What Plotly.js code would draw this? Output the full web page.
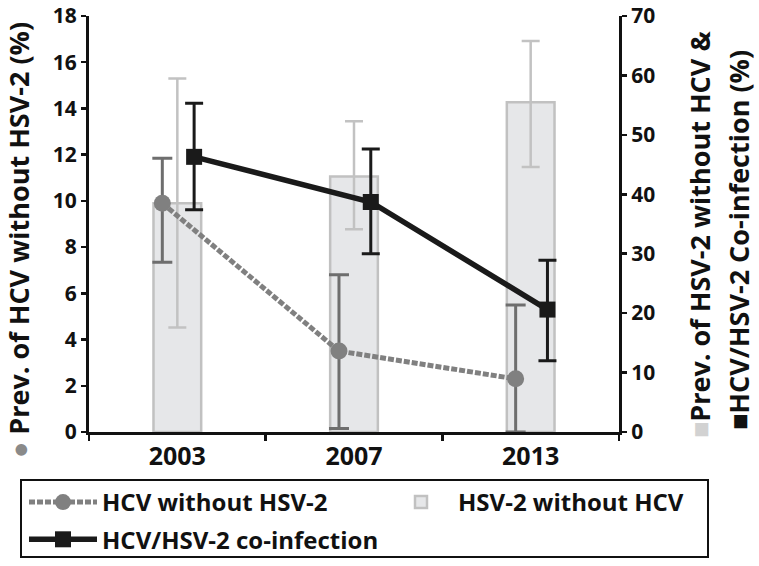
<!DOCTYPE html>
<html>
<head>
<meta charset="utf-8">
<script src="https://cdn.plot.ly/plotly-3.0.1.min.js"></script>
<style>body{margin:0;background:#fff}</style>
</head>
<body>
<div id="chart" style="width:759px;height:566px"></div>
<script>
// ---- data ----
var years = ['2003', '2007', '2013'];

// HCV without HSV-2 (left axis, %)
var hcv   = [9.9, 3.5, 2.3];
var hcvHi = [11.85, 6.8, 5.5];
var hcvLo = [7.35, 0.15, 0.0];

// HSV-2 without HCV (right axis, %)
var hsv   = [38.5, 43.0, 55.5];
var hsvHi = [59.5, 52.3, 65.8];
var hsvLo = [17.6, 34.1, 44.6];

// HCV/HSV-2 co-infection (right axis, %)
var co   = [46.3, 38.7, 20.6];
var coHi = [55.3, 47.6, 28.9];
var coLo = [37.4, 30.0, 12.0];

var leftTicks = [0, 2, 4, 6, 8, 10, 12, 14, 16, 18];
var rightTicks = [0, 10, 20, 30, 40, 50, 60, 70];

// ---- helpers ----
function plus(v, hi) { return v.map(function (d, i) { return hi[i] - d; }); }
function minus(v, lo) { return v.map(function (d, i) { return d - lo[i]; }); }
function pos(off) { return years.map(function (_, i) { return i + off; }); }

var FONT = 'Open Sans, Liberation Sans, DejaVu Sans, sans-serif';
var INK = '#111';

var traces = [
  {
    type: 'bar', name: 'HSV-2 without HCV', x: pos(0), y: hsv, yaxis: 'y',
    width: 0.27, legend: 'legend2',
    marker: { color: '#e6e7e9', line: { color: '#c1c1c1', width: 2.5 } },
    error_y: { type: 'data', symmetric: false, array: plus(hsv, hsvHi), arrayminus: minus(hsv, hsvLo),
               color: '#c2c2c2', thickness: 2.5, width: 9 },
    hoverinfo: 'skip'
  },
  {
    type: 'scatter', mode: 'lines+markers', name: 'HCV/HSV-2 co-infection', x: pos(0.095), y: co, yaxis: 'y',
    legendgroup: 'b', legendrank: 2, legend: 'legend',
    line: { color: '#1a1a1a', width: 5.5 },
    marker: { color: '#1a1a1a', size: 16, symbol: 'square' },
    error_y: { type: 'data', symmetric: false, array: plus(co, coHi), arrayminus: minus(co, coLo),
               color: '#1a1a1a', thickness: 3, width: 9 },
    hoverinfo: 'skip'
  },
  {
    type: 'scatter', mode: 'lines+markers', name: 'HCV without HSV-2', x: pos(-0.085), y: hcv, yaxis: 'y2',
    legendgroup: 'a', legendrank: 1, legend: 'legend',
    line: { color: '#808080', width: 5, dash: '6px,2px' },
    marker: { color: '#808080', size: 17, symbol: 'circle' },
    error_y: { type: 'data', symmetric: false, array: plus(hcv, hcvHi), arrayminus: minus(hcv, hcvLo),
               color: '#6e6e6e', thickness: 3, width: 10 },
    hoverinfo: 'skip'
  }
];

function px2x(p) { return (p - 89) / 530; }
function px2y(p) { return (432 - p) / 416; }

var layout = {
  width: 759, height: 566,
  paper_bgcolor: '#fff', plot_bgcolor: '#fff',
  font: { family: FONT, color: INK, size: 21, weight: 700 },
  margin: { l: 89, r: 140, t: 16, b: 134, autoexpand: false },
  showlegend: true,
  xaxis: {
    range: [-0.5, 2.5], tickmode: 'array', tickvals: [0, 1, 2], ticktext: years,
    ticks: '', showline: true, linecolor: INK, linewidth: 3, zeroline: false, showgrid: false,
    tickfont: { size: 25, weight: 700, color: INK },
    minor: { tickmode: 'array', tickvals: [-0.5, 0.5, 1.5, 2.5], ticks: 'outside', ticklen: 6,
             tickwidth: 2.5, tickcolor: INK, showgrid: false },
    fixedrange: true
  },
  // right-hand axis (base subplot: bars and co-infection)
  yaxis: {
    range: [0, 70], tickmode: 'array', tickvals: rightTicks, side: 'right', anchor: 'x',
    ticks: 'outside', ticklen: 5, tickwidth: 2.5, tickcolor: INK,
    showline: true, linecolor: INK, linewidth: 3, zeroline: false, showgrid: false,
    tickfont: { size: 21, weight: 700, color: INK },
    fixedrange: true
  },
  // left-hand axis (overlay: HCV without HSV-2)
  yaxis2: {
    range: [0, 18], tickmode: 'array', tickvals: leftTicks, overlaying: 'y', side: 'left', anchor: 'x',
    ticks: 'outside', ticklen: 5, tickwidth: 2.5, tickcolor: INK,
    showline: true, linecolor: INK, linewidth: 3, zeroline: false, showgrid: false,
    tickfont: { size: 21, weight: 700, color: INK },
    fixedrange: true
  },
  annotations: [
    { xref: 'paper', yref: 'paper', x: px2x(18), y: px2y(240), xanchor: 'center', yanchor: 'middle',
      textangle: -90, showarrow: false,
      text: '<span style="color:#8a8a8a">●</span> Prev. of HCV without HSV-2 (%)',
      font: { size: 27, weight: 700, color: INK } },
    { xref: 'paper', yref: 'paper', x: px2x(699), y: px2y(235), xanchor: 'center', yanchor: 'middle',
      textangle: -90, showarrow: false,
      text: '<span style="color:#d2d2d2">■</span>Prev. of HSV-2 without HCV &',
      font: { size: 27, weight: 700, color: INK } },
    { xref: 'paper', yref: 'paper', x: px2x(738), y: px2y(240), xanchor: 'center', yanchor: 'middle',
      textangle: -90, showarrow: false,
      text: '■HCV/HSV-2 Co-infection (%)',
      font: { size: 27, weight: 700, color: INK } }
  ],
  shapes: [
    { type: 'rect', xref: 'paper', yref: 'paper', x0: px2x(21), x1: px2x(708), y0: px2y(480), y1: px2y(557),
      line: { color: INK, width: 2 }, fillcolor: 'rgba(0,0,0,0)', layer: 'above' }
  ],
  legend: {
    x: px2x(24), y: px2y(480), xanchor: 'left', yanchor: 'top',
    orientation: 'v', borderwidth: 0, bgcolor: 'rgba(0,0,0,0)',
    font: { size: 24, weight: 700, color: INK }, itemwidth: 68,
    tracegroupgap: 3, traceorder: 'grouped'
  },
  legend2: {
    x: px2x(384), y: px2y(480), xanchor: 'left', yanchor: 'top',
    orientation: 'v', borderwidth: 0, bgcolor: 'rgba(0,0,0,0)',
    font: { size: 24, weight: 700, color: INK }, itemwidth: 64
  }
};

Plotly.newPlot('chart', traces, layout, { staticPlot: true, displayModeBar: false });
</script>
</body>
</html>
